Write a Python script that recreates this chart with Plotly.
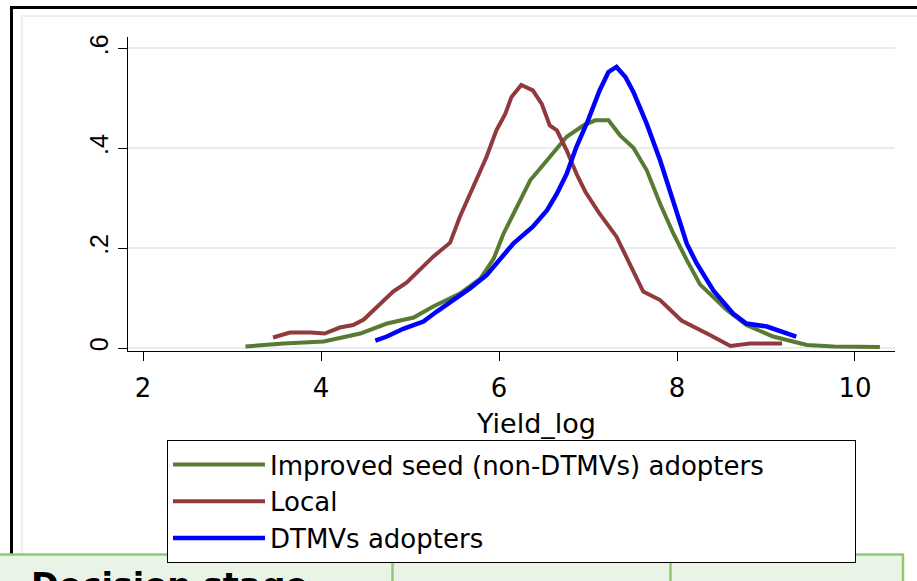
import plotly.graph_objects as go

# ---- data ----
improved_x = [3.15, 3.58, 4.03, 4.44, 4.74, 5.04, 5.26, 5.56, 5.79, 5.94, 6.05, 6.20, 6.35, 6.54,
              6.76, 6.95, 7.08, 7.23, 7.36, 7.51, 7.66, 7.81, 7.96, 8.11, 8.26, 8.56, 8.78, 9.08,
              9.46, 9.76, 10.28]
improved_y = [0.003, 0.009, 0.013, 0.029, 0.049, 0.061, 0.083, 0.109, 0.139, 0.179, 0.229, 0.283,
              0.336, 0.376, 0.423, 0.446, 0.456, 0.456, 0.426, 0.401, 0.356, 0.289, 0.229, 0.176,
              0.127, 0.076, 0.046, 0.023, 0.006, 0.003, 0.002]

local_x = [3.46, 3.65, 3.88, 4.04, 4.21, 4.36, 4.48, 4.63, 4.81, 4.96, 5.11, 5.26, 5.45, 5.56,
           5.71, 5.86, 5.97, 6.07, 6.14, 6.25, 6.38, 6.48, 6.57, 6.65, 6.76, 6.87, 6.97, 7.13,
           7.32, 7.47, 7.62, 7.81, 8.05, 8.37, 8.60, 8.82, 9.18]
local_y = [0.021, 0.031, 0.031, 0.029, 0.041, 0.046, 0.057, 0.083, 0.113, 0.131, 0.157, 0.183,
           0.211, 0.263, 0.323, 0.383, 0.436, 0.469, 0.503, 0.527, 0.516, 0.489, 0.446, 0.436,
           0.396, 0.349, 0.313, 0.269, 0.223, 0.169, 0.113, 0.096, 0.055, 0.026, 0.004, 0.009,
           0.009]

dtmv_x = [4.61, 4.74, 4.93, 5.15, 5.30, 5.49, 5.67, 5.86, 6.01, 6.16, 6.38, 6.54, 6.65, 6.76,
          6.87, 7.00, 7.13, 7.23, 7.32, 7.42, 7.51, 7.66, 7.81, 7.96, 8.11, 8.22, 8.41, 8.63,
          8.78, 9.01, 9.34]
dtmv_y = [0.015, 0.023, 0.039, 0.053, 0.073, 0.096, 0.119, 0.146, 0.176, 0.209, 0.243, 0.276,
          0.309, 0.349, 0.403, 0.456, 0.516, 0.553, 0.563, 0.543, 0.513, 0.449, 0.376, 0.289,
          0.209, 0.170, 0.115, 0.069, 0.049, 0.043, 0.023]

series_names = ["Improved seed (non-DTMVs) adopters", "Local", "DTMVs adopters"]
x_ticks = [2, 4, 6, 8, 10]
y_ticks = [0, 0.2, 0.4, 0.6]
y_tick_text = ["0", ".2", ".4", ".6"]
x_title = "Yield_log"
table_text = "Decision stage"

# ---- layout geometry (pixels) ----
W, H = 917, 581
L, R, T, B = 128, 895, 37, 351


def px(xp):
    return (xp - L) / (R - L)


def py(yp):
    return (B - yp) / (B - T)


fig = go.Figure()
fig.add_trace(go.Scatter(x=improved_x, y=improved_y, mode="lines", name=series_names[0],
                         line=dict(color="#587a32", width=4)))
fig.add_trace(go.Scatter(x=local_x, y=local_y, mode="lines", name=series_names[1],
                         line=dict(color="#903a3e", width=4)))
fig.add_trace(go.Scatter(x=dtmv_x, y=dtmv_y, mode="lines", name=series_names[2],
                         line=dict(color="#0000ff", width=4.5)))

shapes = []
# outer black frame and inner light frame of the graph region
shapes.append(dict(type="rect", xref="paper", yref="paper", x0=px(11.5), x1=px(990),
                   y0=py(7.5), y1=py(700), line=dict(color="black", width=3), layer="below"))
shapes.append(dict(type="rect", xref="paper", yref="paper", x0=px(22), x1=px(990),
                   y0=py(16), y1=py(700), line=dict(color="#e2eaee", width=1.5), layer="below"))
# table below
green = "#8dcb6c"
shapes.append(dict(type="rect", xref="paper", yref="paper", x0=px(-10), x1=px(903),
                   y0=py(554), y1=py(600), fillcolor="#eaf4e6", line=dict(width=0), layer="above"))
shapes.append(dict(type="line", xref="paper", yref="paper", x0=px(-10), x1=px(904),
                   y0=py(554.5), y1=py(554.5), line=dict(color=green, width=2.5), layer="above"))
for xv in (392.5, 670.5, 903):
    shapes.append(dict(type="line", xref="paper", yref="paper", x0=px(xv), x1=px(xv),
                       y0=py(554), y1=py(600), line=dict(color=green, width=2.5), layer="above"))

annotations = [
    dict(text=x_title, xref="paper", yref="paper", x=px(536), y=py(423), xanchor="center",
         yanchor="middle", showarrow=False, font=dict(family="DejaVu Sans", size=27, color="black")),
    dict(text="<b>" + table_text + "</b>", xref="paper", yref="paper", x=px(29), y=py(564),
         xanchor="left", yanchor="top", showarrow=False,
         font=dict(family="DejaVu Sans", size=33.5, color="black")),
]

fig.update_layout(
    width=W, height=H,
    margin=dict(l=L, r=W - R, t=T, b=H - B, pad=0),
    paper_bgcolor="white", plot_bgcolor="white",
    showlegend=True,
    legend=dict(x=px(167), y=py(440), xanchor="left", yanchor="top", orientation="h",
                entrywidth=580, entrywidthmode="pixels",
                bordercolor="black", borderwidth=1, bgcolor="white",
                font=dict(family="DejaVu Sans", size=26, color="black"),
                itemwidth=92, tracegroupgap=0),
    shapes=shapes,
    annotations=annotations,
    xaxis=dict(range=[1.83, 10.45], tickvals=x_ticks, ticks="outside", ticklen=9,
               tickcolor="black", showline=True, linecolor="black", linewidth=1,
               showgrid=False, zeroline=False, ticklabelstandoff=5,
               tickfont=dict(family="DejaVu Sans", size=26, color="black")),
    yaxis=dict(range=[-0.006, 0.623], tickvals=y_ticks, ticktext=y_tick_text, tickangle=-90,
               ticks="outside", ticklen=9, tickcolor="black", showline=True,
               linecolor="black", linewidth=1, showgrid=True, gridcolor="#e6eef2",
               gridwidth=1.5, zeroline=False,
               tickfont=dict(family="Liberation Sans", size=25, color="black")),
)

fig.write_html("out.html", config={"displayModeBar": False},
               post_script="document.body.style.margin='0';")
